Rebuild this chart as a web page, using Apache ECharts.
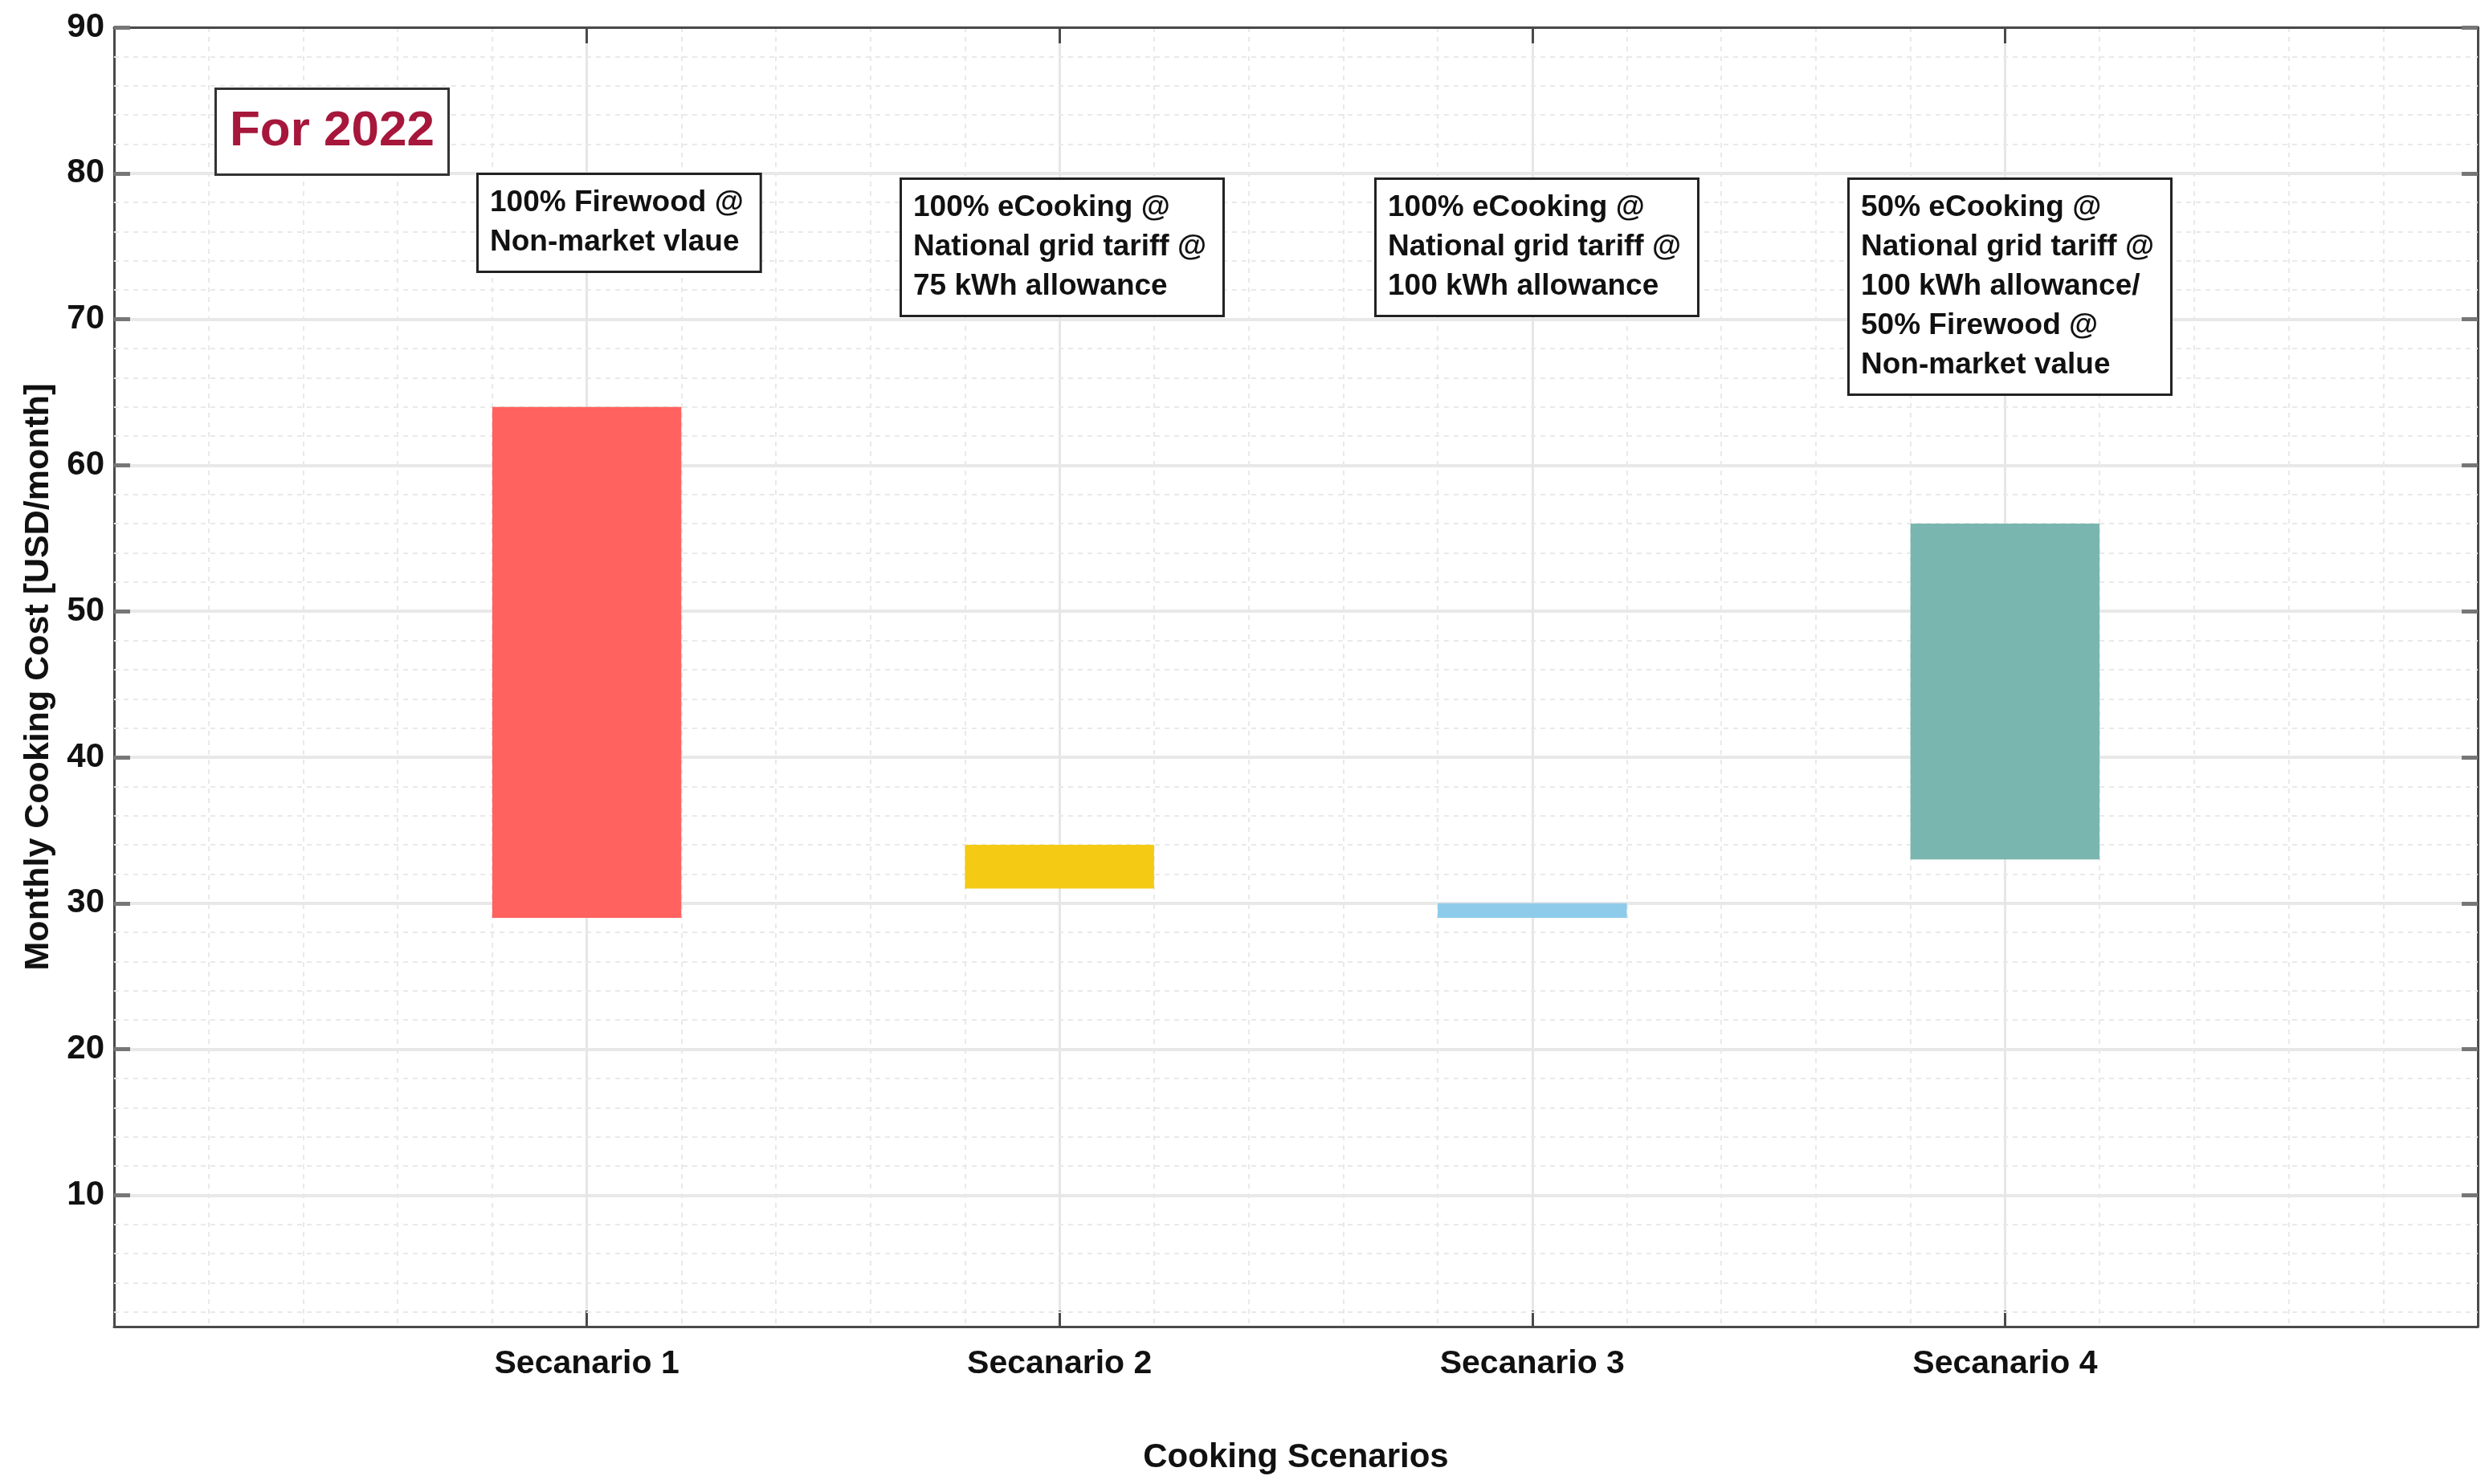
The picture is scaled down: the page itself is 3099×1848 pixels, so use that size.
<!DOCTYPE html>
<html>
<head>
<meta charset="utf-8">
<script src="https://cdn.jsdelivr.net/npm/echarts@6/dist/echarts.min.js"></script>
<style>
  html, body { margin: 0; padding: 0; background: #fff; }
  #chart { width: 3099px; height: 1848px; }
</style>
</head>
<body>
<div id="chart"></div>
<script>
// ---- data ----
const categories = ['Secanario 1', 'Secanario 2', 'Secanario 3', 'Secanario 4'];
const categoryPositions = [1, 2, 3, 4];
const lowValues = [29, 31, 29, 33];
const highValues = [64, 34, 30, 56];
const barColors = ['#FF625F', '#F4CA14', '#8ECBEA', '#79B6AF'];
const yTickValues = [10, 20, 30, 40, 50, 60, 70, 80, 90];
const yMinorValues = [2, 4, 6, 8, 12, 14, 16, 18, 22, 24, 26, 28, 32, 34, 36, 38, 42, 44, 46, 48,
  52, 54, 56, 58, 62, 64, 66, 68, 72, 74, 76, 78, 82, 84, 86, 88];
const annotations = [
  '100% Firewood @\nNon-market vlaue',
  '100% eCooking @\nNational grid tariff @\n75 kWh allowance',
  '100% eCooking @\nNational grid tariff @\n100 kWh allowance',
  '50% eCooking @\nNational grid tariff @\n100 kWh allowance/\n50% Firewood @\nNon-market value'
];
const yearLabel = 'For 2022';

// ---- styles ----
const FONT = "'Liberation Sans', Arial, Helvetica, sans-serif";
const AXIS_COLOR = '#4a4a4a';
const BAR_WIDTH_UNITS = 0.4;

const chart = echarts.init(document.getElementById('chart'), null, { renderer: 'canvas' });

const baseX = {
  type: 'value', min: 0, max: 5, interval: 1,
  axisLine: { show: true, onZero: false, lineStyle: { color: AXIS_COLOR, width: 3 } },
  axisTick: { show: true, inside: true, length: 20, customValues: categoryPositions, lineStyle: { color: AXIS_COLOR, width: 3 } },
  minorTick: { show: false, splitNumber: 5 }
};
const baseY = {
  type: 'value', min: 1, max: 90,
  axisLine: { show: true, onZero: false, lineStyle: { color: AXIS_COLOR, width: 3 } },
  axisTick: { show: true, inside: true, length: 20, customValues: yTickValues, lineStyle: { color: '#777', width: 5 } }
};

const boxStyle = (text, x, y) => ({
  type: 'text', left: x, top: y, z: 100,
  style: {
    text: text,
    font: 'bold 37px ' + FONT,
    fill: '#111',
    lineHeight: 49,
    backgroundColor: '#fff',
    borderColor: '#222',
    borderWidth: 3,
    padding: [10, 20, 11, 14]
  }
});

const option = {
  backgroundColor: '#fff',
  animation: false,
  grid: { left: 142, right: 14, top: 34, bottom: 196, containLabel: false },
  xAxis: [
    Object.assign({}, baseX, {
      position: 'bottom',
      name: 'Cooking Scenarios', nameLocation: 'middle', nameGap: 142,
      nameTextStyle: { fontFamily: FONT, fontWeight: 'bold', fontSize: 42, color: '#111' },
      axisLabel: {
        show: true, customValues: categoryPositions, margin: 26,
        formatter: v => categories[Math.round(v) - 1] || '',
        fontFamily: FONT, fontWeight: 'bold', fontSize: 41, color: '#111'
      },
      splitLine: { show: true, lineStyle: { color: '#e6e6e6', width: 3 } },
      minorSplitLine: { show: true, lineStyle: { color: '#e9e9e9', width: 2, type: [6, 6] } }
    }),
    Object.assign({}, baseX, {
      position: 'top',
      axisLabel: { show: false },
      splitLine: { show: false }
    })
  ],
  yAxis: [
    Object.assign({}, baseY, {
      position: 'left',
      name: 'Monthly Cooking Cost [USD/month]', nameLocation: 'middle', nameGap: 72,
      nameTextStyle: { fontFamily: FONT, fontWeight: 'bold', fontSize: 43, color: '#111' },
      axisLabel: {
        show: true, customValues: yTickValues, margin: 12,
        fontFamily: FONT, fontWeight: 'bold', fontSize: 42, color: '#111'
      },
      splitLine: { show: true, lineStyle: { color: '#e8e8e8', width: 4 } }
    }),
    Object.assign({}, baseY, {
      position: 'right',
      axisLabel: { show: false },
      splitLine: { show: false }
    })
  ],
  graphic: [
    {
      type: 'text', left: 267, top: 109, z: 100,
      style: {
        text: yearLabel,
        font: 'bold 62px ' + FONT,
        fill: '#A6173B',
        lineHeight: 70,
        backgroundColor: '#fff',
        borderColor: '#333',
        borderWidth: 3,
        padding: [17, 16, 17, 16]
      }
    },
    boxStyle(annotations[0], 593, 215),
    boxStyle(annotations[1], 1120, 221),
    boxStyle(annotations[2], 1711, 221),
    boxStyle(annotations[3], 2300, 221)
  ],
  series: [
    {
      type: 'line', xAxisIndex: 0, yAxisIndex: 0, data: [], z: 1, silent: true,
      markLine: {
        silent: true, symbol: 'none', animation: false,
        label: { show: false },
        lineStyle: { color: '#e9e9e9', width: 2, type: [6, 6] },
        data: yMinorValues.map(v => ({ yAxis: v }))
      }
    },
    {
      type: 'custom', xAxisIndex: 0, yAxisIndex: 0, z: 5,
      data: categoryPositions.map((p, i) => [p, lowValues[i], highValues[i]]),
      renderItem: function (params, api) {
        const x = api.value(0);
        const top = api.coord([x, api.value(2)]);
        const bot = api.coord([x, api.value(1)]);
        const w = api.size([BAR_WIDTH_UNITS, 0])[0];
        return {
          type: 'rect',
          shape: { x: top[0] - w / 2, y: top[1], width: w, height: bot[1] - top[1] },
          style: { fill: barColors[params.dataIndex] }
        };
      }
    }
  ]
};

chart.setOption(option);
</script>
</body>
</html>
